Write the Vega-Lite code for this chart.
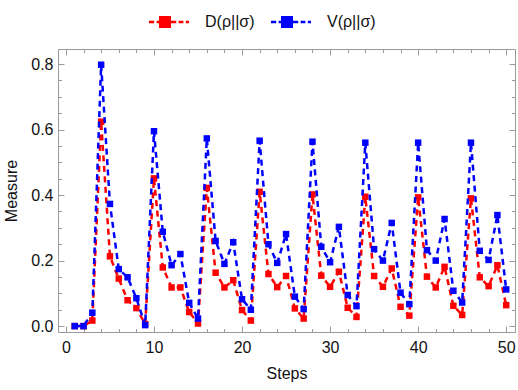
{
  "$schema": "https://vega.github.io/schema/vega-lite/v6.json",
  "width": 457,
  "height": 283,
  "autosize": {"type": "none"},
  "padding": {"left": 58, "top": 49, "right": 3, "bottom": 58},
  "datasets": {
    "D": [
      {"step": 1, "value": 0}, {"step": 2, "value": 0}, {"step": 3, "value": 0.017}, {"step": 4, "value": 0.624},
      {"step": 5, "value": 0.213}, {"step": 6, "value": 0.145}, {"step": 7, "value": 0.079}, {"step": 8, "value": 0.055},
      {"step": 9, "value": 0.006}, {"step": 10, "value": 0.451}, {"step": 11, "value": 0.179}, {"step": 12, "value": 0.118},
      {"step": 13, "value": 0.118}, {"step": 14, "value": 0.043}, {"step": 15, "value": 0.008}, {"step": 16, "value": 0.422},
      {"step": 17, "value": 0.163}, {"step": 18, "value": 0.118}, {"step": 19, "value": 0.14}, {"step": 20, "value": 0.049},
      {"step": 21, "value": 0.017}, {"step": 22, "value": 0.41}, {"step": 23, "value": 0.159}, {"step": 24, "value": 0.119},
      {"step": 25, "value": 0.153}, {"step": 26, "value": 0.054}, {"step": 27, "value": 0.023}, {"step": 28, "value": 0.402},
      {"step": 29, "value": 0.154}, {"step": 30, "value": 0.12}, {"step": 31, "value": 0.166}, {"step": 32, "value": 0.056},
      {"step": 33, "value": 0.028}, {"step": 34, "value": 0.395}, {"step": 35, "value": 0.153}, {"step": 36, "value": 0.12},
      {"step": 37, "value": 0.176}, {"step": 38, "value": 0.059}, {"step": 39, "value": 0.032}, {"step": 40, "value": 0.393},
      {"step": 41, "value": 0.151}, {"step": 42, "value": 0.118}, {"step": 43, "value": 0.181}, {"step": 44, "value": 0.062},
      {"step": 45, "value": 0.034}, {"step": 46, "value": 0.39}, {"step": 47, "value": 0.149}, {"step": 48, "value": 0.122},
      {"step": 49, "value": 0.186}, {"step": 50, "value": 0.064}
    ],
    "V": [
      {"step": 1, "value": 0}, {"step": 2, "value": 0}, {"step": 3, "value": 0.041}, {"step": 4, "value": 0.798},
      {"step": 5, "value": 0.373}, {"step": 6, "value": 0.174}, {"step": 7, "value": 0.149}, {"step": 8, "value": 0.085},
      {"step": 9, "value": 0.003}, {"step": 10, "value": 0.595}, {"step": 11, "value": 0.288}, {"step": 12, "value": 0.186},
      {"step": 13, "value": 0.22}, {"step": 14, "value": 0.071}, {"step": 15, "value": 0.023}, {"step": 16, "value": 0.573},
      {"step": 17, "value": 0.26}, {"step": 18, "value": 0.19}, {"step": 19, "value": 0.256}, {"step": 20, "value": 0.082},
      {"step": 21, "value": 0.05}, {"step": 22, "value": 0.566}, {"step": 23, "value": 0.25}, {"step": 24, "value": 0.193},
      {"step": 25, "value": 0.281}, {"step": 26, "value": 0.09}, {"step": 27, "value": 0.052}, {"step": 28, "value": 0.563},
      {"step": 29, "value": 0.242}, {"step": 30, "value": 0.195}, {"step": 31, "value": 0.303}, {"step": 32, "value": 0.095},
      {"step": 33, "value": 0.061}, {"step": 34, "value": 0.56}, {"step": 35, "value": 0.235}, {"step": 36, "value": 0.2},
      {"step": 37, "value": 0.315}, {"step": 38, "value": 0.102}, {"step": 39, "value": 0.067}, {"step": 40, "value": 0.56},
      {"step": 41, "value": 0.232}, {"step": 42, "value": 0.2}, {"step": 43, "value": 0.327}, {"step": 44, "value": 0.108},
      {"step": 45, "value": 0.072}, {"step": 46, "value": 0.56}, {"step": 47, "value": 0.23}, {"step": 48, "value": 0.202},
      {"step": 49, "value": 0.339}, {"step": 50, "value": 0.112}
    ]
  },
  "layer": [
    {
      "data": {"name": "D"},
      "mark": {"type": "line", "strokeWidth": 2.5, "strokeDash": [6, 4.5], "point": {"shape": "square", "size": 42, "filled": true, "opacity": 1}},
      "encoding": {
        "x": {
          "field": "step", "type": "quantitative",
          "scale": {"domain": [-0.9, 51], "nice": false, "zero": false},
          "axis": {
            "orient": "bottom",
            "values": [0, 2, 4, 6, 8, 10, 12, 14, 16, 18, 20, 22, 24, 26, 28, 30, 32, 34, 36, 38, 40, 42, 44, 46, 48, 50],
            "labelExpr": "datum.value % 10 === 0 ? datum.label : ''",
            "tickSize": {"condition": {"test": "datum.value % 10 === 0", "value": -6}, "value": -3.5},
            "labelPadding": 13,
            "title": "Steps",
            "titlePadding": 8
          }
        },
        "y": {
          "field": "value", "type": "quantitative",
          "scale": {"domain": [-0.018, 0.846], "nice": false, "zero": false},
          "axis": {
            "orient": "left",
            "values": [0, 0.05, 0.1, 0.15, 0.2, 0.25, 0.3, 0.35, 0.4, 0.45, 0.5, 0.55, 0.6, 0.65, 0.7, 0.75, 0.8],
            "labelExpr": "abs(datum.value * 5 - round(datum.value * 5)) < 0.000001 ? format(datum.value, '.1f') : ''",
            "tickSize": {"condition": {"test": "abs(datum.value * 5 - round(datum.value * 5)) < 0.000001", "value": -6}, "value": -3.5},
            "labelPadding": 11,
            "title": "Measure",
            "titlePadding": 11
          }
        },
        "color": {
          "datum": "D(ρ||σ)", "type": "nominal",
          "scale": {"domain": ["D(ρ||σ)", "V(ρ||σ)"], "range": ["#ff0000", "#0000ff"]},
          "legend": {
            "title": null,
            "orient": "none",
            "legendX": 91,
            "legendY": -47,
            "direction": "horizontal",
            "symbolType": "M-1,-0.06H-0.74V0.06H-1Z M-0.62,-0.06H0.36V0.06H-0.62Z M-0.5,-0.3H0.1V0.3H-0.5Z M0.48,-0.06H0.72V0.06H0.48Z M0.84,-0.06H1V0.06H0.84Z",
            "symbolSize": 1600,
            "symbolStrokeWidth": 0,
            "labelFont": "Liberation Sans",
            "labelFontSize": 16,
            "labelColor": "#111111",
            "labelOffset": 16,
            "columnPadding": 16,
            "encode": {"symbols": {"update": {"fill": {"scale": "color", "field": "value"}, "opacity": {"value": 1}}}}
          }
        }
      }
    },
    {
      "data": {"name": "V"},
      "mark": {"type": "line", "strokeWidth": 2.5, "strokeDash": [6, 4.5], "point": {"shape": "square", "size": 42, "filled": true, "opacity": 1}},
      "encoding": {
        "x": {
          "field": "step", "type": "quantitative",
          "axis": {
            "orient": "top",
            "values": [0, 2, 4, 6, 8, 10, 12, 14, 16, 18, 20, 22, 24, 26, 28, 30, 32, 34, 36, 38, 40, 42, 44, 46, 48, 50],
            "labels": false,
            "tickSize": {"condition": {"test": "datum.value % 10 === 0", "value": -6}, "value": -3.5},
            "title": null
          }
        },
        "y": {
          "field": "value", "type": "quantitative",
          "axis": {
            "orient": "right",
            "values": [0, 0.05, 0.1, 0.15, 0.2, 0.25, 0.3, 0.35, 0.4, 0.45, 0.5, 0.55, 0.6, 0.65, 0.7, 0.75, 0.8],
            "labels": false,
            "tickSize": {"condition": {"test": "abs(datum.value * 5 - round(datum.value * 5)) < 0.000001", "value": -6}, "value": -3.5},
            "title": null
          }
        },
        "color": {"datum": "V(ρ||σ)", "type": "nominal"}
      }
    }
  ],
  "resolve": {"scale": {"x": "shared", "y": "shared", "color": "shared"}, "axis": {"x": "independent", "y": "independent"}},
  "config": {
    "view": {"stroke": null},
    "axis": {
      "grid": false,
      "domainColor": "#9a9a9a",
      "tickColor": "#9a9a9a",
      "labelFont": "Liberation Sans",
      "labelFontSize": 16,
      "labelColor": "#111111",
      "titleFont": "Liberation Sans",
      "titleFontSize": 16,
      "titleFontWeight": "normal",
      "titleColor": "#111111",
      "labelOverlap": false,
      "labelFlush": false,
      "labelBound": false
    }
  }
}
